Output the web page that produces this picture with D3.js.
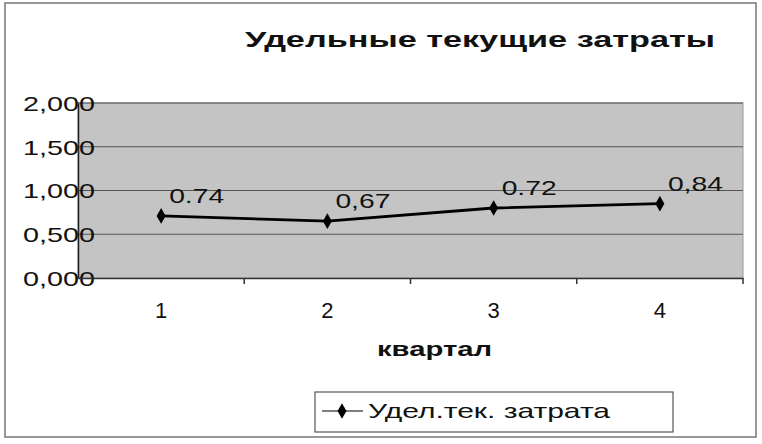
<!doctype html>
<html>
<head>
<meta charset="UTF-8">
<title>Удельные текущие затраты</title>
<script src="https://d3js.org/d3.v7.min.js"></script>
<style>
  body { margin: 0; background: #fff; }
  text { font-family: "Liberation Sans", Arial, sans-serif; fill: #111; }
</style>
</head>
<body>
<script>
// data
var quarters = ["1", "2", "3", "4"];
var values = [0.71, 0.65, 0.80, 0.85];
var pointLabels = ["0.74", "0,67", "0.72", "0,84"];
var yTicks = [0, 0.5, 1, 1.5, 2];
var seriesName = "Удел.тек. затрата";

var W = 762, H = 444;
var svg = d3.select("body").append("svg")
  .attr("width", W).attr("height", H);

// outer chart frame
svg.append("rect")
  .attr("x", 5).attr("y", 3).attr("width", 751).attr("height", 434)
  .attr("fill", "#fff").attr("stroke", "#777").attr("stroke-width", 1.5);

var pLeft = 78, pRight = 743, pTop = 103, pBottom = 278;

var x = d3.scaleBand().domain(quarters).range([pLeft, pRight]).padding(0);
var y = d3.scaleLinear().domain([0, 2]).range([pBottom, pTop]);

// plot area
svg.append("rect")
  .attr("x", pLeft).attr("y", pTop)
  .attr("width", pRight - pLeft).attr("height", pBottom - pTop)
  .attr("fill", "#c4c4c4").attr("stroke", "#9a9a9a");

// gridlines
svg.append("g").selectAll("line").data(yTicks.slice(1)).enter().append("line")
  .attr("x1", pLeft).attr("x2", pRight)
  .attr("y1", function(d){ return y(d); })
  .attr("y2", function(d){ return y(d); })
  .attr("stroke", "#555").attr("stroke-width", 1.2);

// axes
var fmt = function(d){ return d3.format(".3f")(d).replace(".", ","); };
var yAxis = svg.append("g")
  .attr("transform", "translate(" + pLeft + ",0)")
  .call(d3.axisLeft(y).tickValues(yTicks).tickSize(0).tickFormat(fmt));
yAxis.select(".domain").attr("stroke", "#222").attr("stroke-width", 1.5);
yAxis.selectAll("text")
  .attr("x", 17).attr("dy", "0.35em")
  .style("font-size", "21px")
  .attr("textLength", 72).attr("lengthAdjust", "spacingAndGlyphs");

var xAxis = svg.append("g")
  .attr("transform", "translate(0," + pBottom + ")")
  .call(d3.axisBottom(x).tickSize(0).tickFormat(""));
xAxis.select(".domain").attr("stroke", "#333").attr("stroke-width", 1.5);

// tick marks at category boundaries
var bounds = quarters.slice(1).map(function(q){ return x(q); }).concat([pRight]);
svg.append("g").selectAll("line").data(bounds).enter().append("line")
  .attr("x1", function(d){ return d; }).attr("x2", function(d){ return d; })
  .attr("y1", pBottom).attr("y2", pBottom + 6)
  .attr("stroke", "#333").attr("stroke-width", 1.5);

// category labels
svg.append("g").selectAll("text").data(quarters).enter().append("text")
  .attr("x", function(d){ return x(d) + x.bandwidth() / 2; })
  .attr("y", 318)
  .attr("text-anchor", "middle")
  .style("font-size", "22px")
  .text(function(d){ return d; });

// series line
var cx = function(d, i){ return x(quarters[i]) + x.bandwidth() / 2; };
var line = d3.line().x(cx).y(function(d){ return y(d); });
svg.append("path").datum(values)
  .attr("d", line)
  .attr("fill", "none").attr("stroke", "#000").attr("stroke-width", 2.8);

var diamond = d3.symbol().type(d3.symbolDiamond).size(70);
svg.append("g").selectAll("path").data(values).enter().append("path")
  .attr("d", diamond)
  .attr("transform", function(d, i){ return "translate(" + cx(d, i) + "," + y(d) + ")"; })
  .attr("fill", "#000");

// data labels
svg.append("g").selectAll("text").data(values).enter().append("text")
  .attr("x", function(d, i){ return cx(d, i) + 8; })
  .attr("y", function(d){ return y(d) - 13; })
  .style("font-size", "21px")
  .attr("textLength", 55).attr("lengthAdjust", "spacingAndGlyphs")
  .text(function(d, i){ return pointLabels[i]; });

// title
svg.append("text")
  .attr("x", 245).attr("y", 47)
  .style("font-size", "22px").style("font-weight", "bold")
  .attr("textLength", 470).attr("lengthAdjust", "spacingAndGlyphs")
  .text("Удельные текущие затраты");

// axis title
svg.append("text")
  .attr("x", 377).attr("y", 356)
  .style("font-size", "21px").style("font-weight", "bold")
  .attr("textLength", 115).attr("lengthAdjust", "spacingAndGlyphs")
  .text("квартал");

// legend
var lg = svg.append("g");
lg.append("rect")
  .attr("x", 315).attr("y", 392).attr("width", 358).attr("height", 40)
  .attr("fill", "#fff").attr("stroke", "#555").attr("stroke-width", 1.2);
lg.append("line")
  .attr("x1", 322).attr("x2", 363).attr("y1", 411).attr("y2", 411)
  .attr("stroke", "#555").attr("stroke-width", 1.5);
lg.append("path")
  .attr("d", diamond)
  .attr("transform", "translate(342,411)")
  .attr("fill", "#000");
lg.append("text")
  .attr("x", 368).attr("y", 418)
  .style("font-size", "21px")
  .attr("textLength", 242).attr("lengthAdjust", "spacingAndGlyphs")
  .text(seriesName);
</script>
</body>
</html>
